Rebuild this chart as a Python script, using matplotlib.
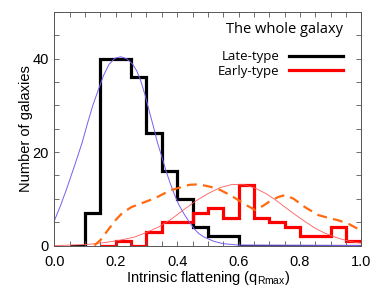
import matplotlib
matplotlib.use('Agg')
import matplotlib.pyplot as plt
from matplotlib.ticker import MultipleLocator
import numpy as np

plt.rcParams['font.family'] = ['Liberation Sans', 'DejaVu Sans']
plt.rcParams['mathtext.fontset'] = 'custom'
plt.rcParams['mathtext.rm'] = 'Liberation Sans'
plt.rcParams['mathtext.it'] = 'Liberation Sans:italic'

# histogram bins (width 0.05)
bin_edges = np.round(np.arange(0.05, 1.0001, 0.05), 2)
late_counts = [0, 7, 40, 40, 36, 24, 16, 10, 4, 2, 2, 0, 0, 0, 0, 0, 0, 0, 0]
early_edges = bin_edges[2:]
early_counts = [0, 1, 0, 3, 5, 5, 7, 8, 6, 13, 6, 5, 4, 2, 2, 4, 1]

# fitted curve for late-type (thin blue)
late_fit_x = [0.0, 0.02, 0.04, 0.064, 0.09, 0.107, 0.125, 0.145, 0.16, 0.178,
              0.197, 0.216, 0.235, 0.254, 0.268, 0.281, 0.295, 0.308, 0.322,
              0.335, 0.35, 0.363, 0.377, 0.39, 0.405, 0.423, 0.44, 0.455, 0.47,
              0.488, 0.52, 0.55, 0.6, 1.0]
late_fit_y = [5.4, 8.6, 12.2, 16.8, 22.0, 26.0, 30.0, 33.7, 36.4, 38.8,
              40.1, 40.4, 40.0, 38.9, 37.4, 35.3, 32.3, 29.0, 25.6,
              22.2, 19.0, 16.1, 13.4, 11.1, 8.8, 6.7, 5.0, 3.6, 2.6,
              1.8, 0.9, 0.4, 0.1, 0.0]

# fitted curve for early-type (thin red)
early_fit_x = [0.0, 0.1, 0.16, 0.21, 0.26, 0.3, 0.34, 0.38, 0.42, 0.46, 0.5,
               0.54, 0.58, 0.62, 0.654, 0.69, 0.72, 0.75, 0.785, 0.82, 0.85,
               0.88, 0.915, 0.95, 0.98, 1.0]
early_fit_y = [0.0, 0.2, 0.6, 1.1, 1.8, 2.8, 4.0, 5.6, 7.6, 9.5, 11.1,
               12.4, 13.1, 13.0, 12.3, 11.1, 9.8, 8.3, 6.6, 5.0, 3.7,
               2.7, 1.8, 1.1, 0.7, 0.5]

# dashed orange curve
dash_x = [0.13, 0.15, 0.18, 0.2, 0.22, 0.25, 0.29, 0.33, 0.377, 0.44, 0.47, 0.507,
          0.54, 0.573, 0.6, 0.627, 0.654, 0.68, 0.698, 0.73, 0.752, 0.78, 0.817,
          0.861, 0.9, 0.926, 0.96, 1.0]
dash_y = [0.0, 1.2, 3.8, 5.5, 6.9, 8.2, 9.2, 10.2, 11.8, 13.0, 13.1, 12.6,
          11.9, 10.8, 9.7, 8.6, 7.6, 8.5, 9.3, 10.4, 10.8, 10.0, 8.2,
          6.5, 5.8, 5.4, 4.6, 3.2]

fig = plt.figure(figsize=(3.81, 2.98), dpi=100)
ax = fig.add_axes([0.143, 0.176, 0.805, 0.784])

ax.plot(late_fit_x, late_fit_y, color='#7b5cf0', lw=0.7)
ax.plot(early_fit_x, early_fit_y, color='#ff5a5a', lw=0.6)
ax.plot(dash_x, dash_y, color='#ff6a10', lw=1.6, dashes=(4.5, 2.8))
ax.stairs(late_counts, bin_edges, baseline=None, color='black', lw=2.3,
          label='Late-type')
ax.stairs(early_counts, early_edges, baseline=None, color='#ff0000', lw=2.3,
          label='Early-type')

ax.set_xlim(0, 1)
ax.set_ylim(0, 50)
ax.xaxis.set_major_locator(MultipleLocator(0.2))
ax.xaxis.set_minor_locator(MultipleLocator(0.05))
ax.yaxis.set_major_locator(MultipleLocator(20))
ax.yaxis.set_minor_locator(MultipleLocator(5))
ax.tick_params(which='both', direction='in', top=True, right=True,
               length=3.5, width=0.6, color='#555555', labelsize=10.5, pad=4)
ax.tick_params(axis='x', pad=7)
ax.xaxis.set_major_formatter(plt.FuncFormatter(lambda v, p: f'{v:.1f}'))
for s in ax.spines.values():
    s.set_linewidth(0.7)
    s.set_color('#555555')

ax.set_xlabel(r'Intrinsic flattening (q$_{\mathrm{Rmax}}$)', fontsize=10.5, labelpad=0)
ax.set_ylabel('Number of galaxies', fontsize=10.5, labelpad=0)

ax.text(0.941, 0.923, 'The whole galaxy', transform=ax.transAxes,
        ha='right', va='center', fontsize=10.5, family='Open Sans')
leg = ax.legend(loc='upper right', bbox_to_anchor=(0.941, 0.835), frameon=False,
                markerfirst=False, handlelength=4.1, handletextpad=0.7,
                labelspacing=0.12, borderaxespad=0, borderpad=0,
                prop={'family': 'Open Sans', 'size': 9.5})

fig.savefig('out.png', dpi=100)
